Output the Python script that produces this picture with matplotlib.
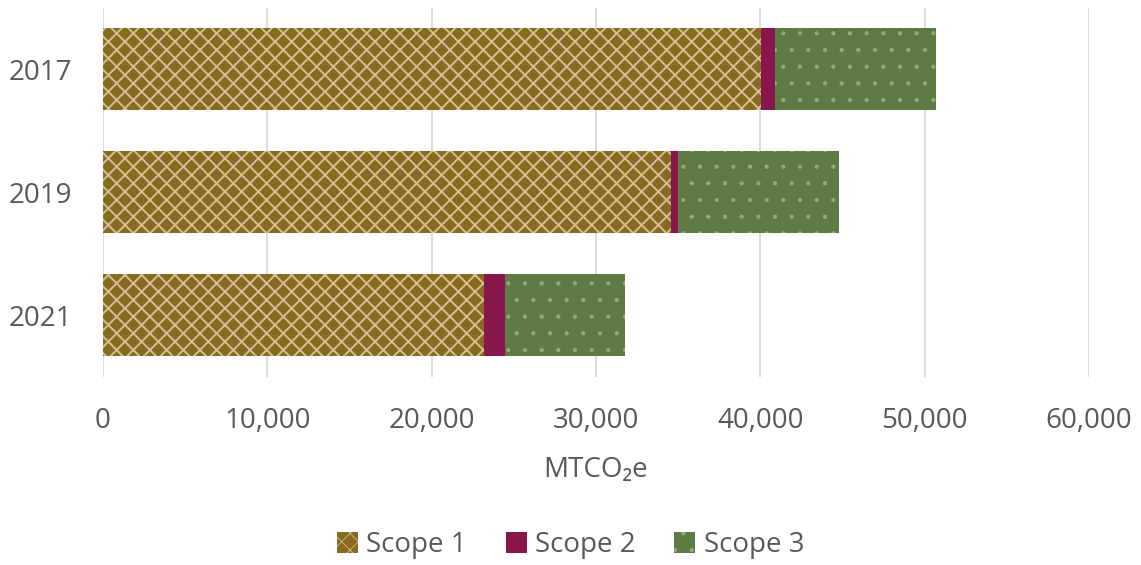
import numpy as np
import matplotlib.pyplot as plt
from matplotlib.patches import Patch

plt.rcParams['font.family'] = ['Open Sans', 'DejaVu Sans']

years = ['2017', '2019', '2021']
scope1 = [40050, 34570, 23190]
scope2 = [850, 430, 1280]
scope3 = [9800, 9800, 7300]

text_col = '#595959'
brown = '#866a1f'
tan = '#d6bd94'
plum = '#87174a'
green = '#5f7b45'
dot = '#92ad77'

fig = plt.figure(figsize=(11.41, 5.65), dpi=100)
ax = fig.add_axes([0.0903, 0.3336, 0.864, 0.653])

y = np.arange(len(years))
h = 0.667
s1 = np.array(scope1)
s2 = np.array(scope2)
s3 = np.array(scope3)

plt.rcParams['hatch.linewidth'] = 1.4
ax.barh(y, s1, height=h, color=brown, edgecolor=tan, hatch='xx', linewidth=0, zorder=2)
ax.barh(y, s2, left=s1, height=h, color=plum, linewidth=0, zorder=2)
plt.rcParams['hatch.linewidth'] = 0.6
ax.barh(y, s3, left=s1 + s2, height=h, color=green, edgecolor=dot, hatch='.', linewidth=0, zorder=2)

ax.set_xlim(0, 60000)
ax.set_ylim(2.5, -0.5)
ax.set_yticks(y)
ax.set_yticklabels(years)
ax.set_xticks(np.arange(0, 60001, 10000))
ax.set_xticklabels([f'{v:,}' for v in range(0, 60001, 10000)])
ax.grid(axis='x', color='#d9d9d9', linewidth=1.3, zorder=0)
for sp in ax.spines.values():
    sp.set_visible(False)
ax.tick_params(axis='both', length=0, labelsize=20, colors=text_col)
ax.tick_params(axis='x', pad=22)
ax.tick_params(axis='y', pad=22)
ax.set_xlabel('MTCO\u2082e', fontsize=20, color=text_col, labelpad=15)

plt.rcParams['hatch.linewidth'] = 1.4
h1 = Patch(facecolor=brown, edgecolor=tan, hatch='xx', linewidth=0, label='Scope 1')
h2 = Patch(facecolor=plum, linewidth=0, label='Scope 2')
plt.rcParams['hatch.linewidth'] = 0.6
h3 = Patch(facecolor=green, edgecolor=dot, hatch='.', linewidth=0, label='Scope 3')
leg = fig.legend(handles=[h1, h2, h3], loc='center', bbox_to_anchor=(0.5, 0.035), ncol=3,
                 frameon=False, fontsize=20, handlelength=0.75, handleheight=0.75,
                 handletextpad=0.3, columnspacing=1.4)
for t in leg.get_texts():
    t.set_color(text_col)

fig.savefig('out.png', dpi=100)
